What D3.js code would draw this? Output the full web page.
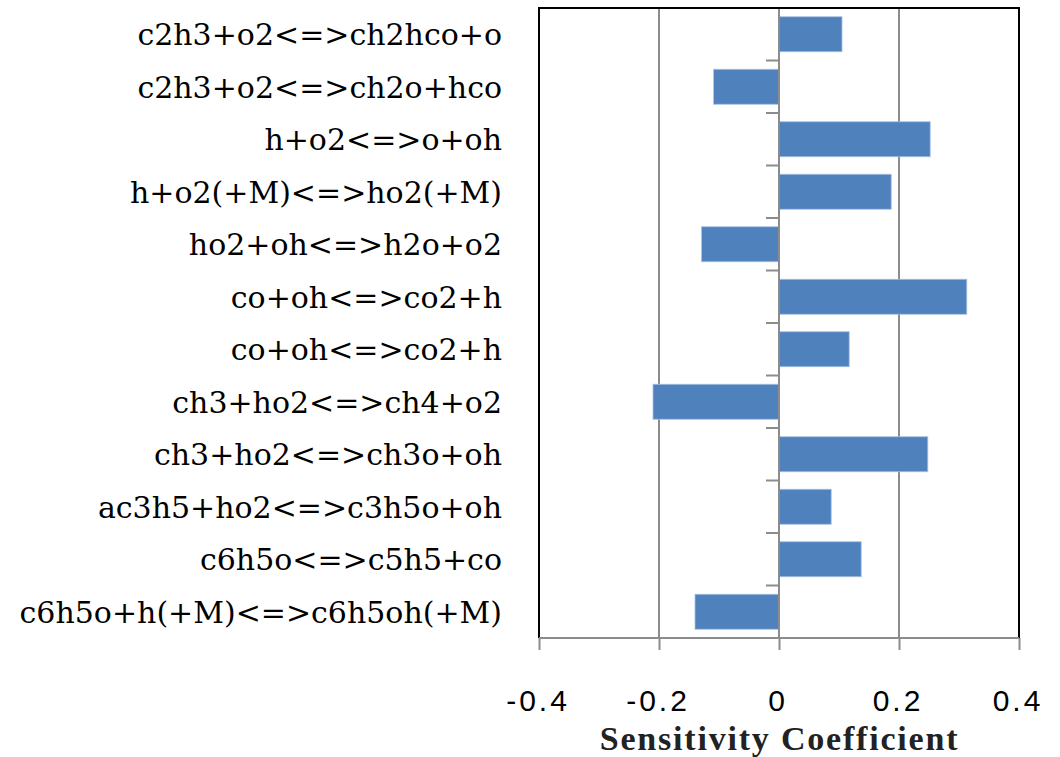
<!DOCTYPE html>
<html>
<head>
<meta charset="utf-8">
<script src="https://cdn.jsdelivr.net/npm/d3@7"></script>
<style>
  html, body { margin: 0; padding: 0; background: #ffffff; }
  svg { display: block; }
</style>
</head>
<body>
<svg id="chart" width="1060" height="757"></svg>
<script>
const categories = [
  "c2h3+o2<=>ch2hco+o",
  "c2h3+o2<=>ch2o+hco",
  "h+o2<=>o+oh",
  "h+o2(+M)<=>ho2(+M)",
  "ho2+oh<=>h2o+o2",
  "co+oh<=>co2+h",
  "co+oh<=>co2+h",
  "ch3+ho2<=>ch4+o2",
  "ch3+ho2<=>ch3o+oh",
  "ac3h5+ho2<=>c3h5o+oh",
  "c6h5o<=>c5h5+co",
  "c6h5o+h(+M)<=>c6h5oh(+M)"
];
const values = [0.105, -0.109, 0.252, 0.187, -0.129, 0.313, 0.117, -0.21, 0.248, 0.087, 0.137, -0.14];
const xTicks = [-0.4, -0.2, 0, 0.2, 0.4];
const xTickLabels = ["-0.4", "-0.2", "0", "0.2", "0.4"];
const xTitle = "Sensitivity Coefficient";

const svg = d3.select("#chart");
const L = 539, R = 1019, T = 8, B = 638;

const x = d3.scaleLinear().domain([-0.4, 0.4]).range([L, R]);
const idx = d3.range(categories.length);
const y = d3.scaleBand().domain(idx).range([T, B]).paddingInner(1/3).paddingOuter(1/6);
const step = y.step();

const grid = "#8c8c8c";

// gridlines
svg.append("g").selectAll("line").data(xTicks.filter(d => d > -0.4 && d < 0.4)).join("line")
  .attr("x1", d => x(d)).attr("x2", d => x(d))
  .attr("y1", T).attr("y2", B)
  .attr("stroke", grid).attr("stroke-width", 2);

// bars
svg.append("g").selectAll("rect").data(idx).join("rect")
  .attr("x", i => x(Math.min(0, values[i])))
  .attr("y", i => y(i))
  .attr("width", i => Math.abs(x(values[i]) - x(0)))
  .attr("height", y.bandwidth())
  .attr("fill", "#4f81bd")
  .attr("stroke", "#a9c1e0").attr("stroke-width", 0.8);

// zero axis line
svg.append("line")
  .attr("x1", x(0)).attr("x2", x(0)).attr("y1", T).attr("y2", B)
  .attr("stroke", grid).attr("stroke-width", 2);

// category tick marks at band boundaries
svg.append("g").selectAll("line").data(d3.range(1, categories.length)).join("line")
  .attr("x1", x(0) - 13).attr("x2", x(0))
  .attr("y1", i => T + i * (B - T) / categories.length)
  .attr("y2", i => T + i * (B - T) / categories.length)
  .attr("stroke", grid).attr("stroke-width", 2);

// frame: left, top, right black
svg.append("path")
  .attr("d", `M${L},${B} L${L},${T} L${R},${T} L${R},${B}`)
  .attr("fill", "none").attr("stroke", "#000").attr("stroke-width", 2);

// bottom axis
const xAxis = d3.axisBottom(x).tickValues(xTicks).tickSize(12).tickFormat((d, i) => "");
const gx = svg.append("g").attr("transform", `translate(0,${B})`).call(xAxis);
gx.select(".domain").attr("stroke", grid).attr("stroke-width", 2).attr("d", `M${L},0H${R}`);
gx.selectAll(".tick line").attr("stroke", grid).attr("stroke-width", 2);

// tick labels
svg.append("g").selectAll("text").data(xTicks).join("text")
  .attr("x", d => x(d) - 1)
  .attr("y", 711)
  .attr("text-anchor", "middle")
  .attr("font-family", "'Liberation Sans', Arial, sans-serif")
  .attr("font-size", 30)
  .attr("letter-spacing", "3px")
  .attr("fill", "#000")
  .text((d, i) => xTickLabels[i]);

// category labels
svg.append("g").selectAll("text").data(idx).join("text")
  .attr("x", 502)
  .attr("y", i => y(i) + y.bandwidth() / 2)
  .attr("dy", "0.36em")
  .attr("text-anchor", "end")
  .attr("font-family", "'DejaVu Serif', serif")
  .attr("font-size", 30)
  .attr("fill", "#000")
  .text(i => categories[i]);

// axis title
svg.append("text")
  .attr("x", 779.5).attr("y", 750)
  .attr("text-anchor", "middle")
  .attr("font-family", "'Liberation Serif', 'Times New Roman', serif")
  .attr("font-weight", "bold")
  .attr("font-size", 34)
  .attr("letter-spacing", "1.8px")
  .attr("fill", "#222")
  .text(xTitle);
</script>
</body>
</html>
